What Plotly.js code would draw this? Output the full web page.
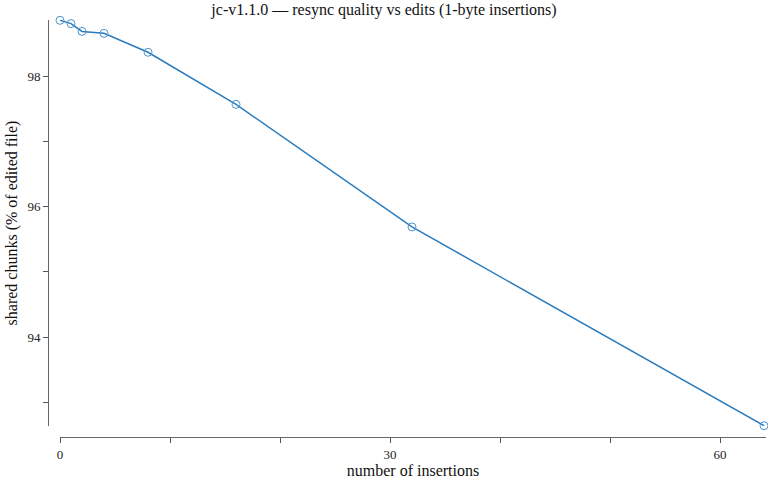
<!DOCTYPE html>
<html>
<head>
<meta charset="utf-8">
<script src="https://cdn.plot.ly/plotly-3.0.1.min.js"></script>
<style>
  html, body { margin: 0; padding: 0; background: #fff; }
  #chart { width: 768px; height: 480px; }
</style>
</head>
<body>
<div id="chart"></div>
<script>
// values
const insertions = [0, 1, 2, 4, 8, 16, 32, 64];
const sharedPct = [98.86, 98.81, 98.69, 98.66, 98.37, 97.57, 95.69, 92.64];

const xTickVals = [0, 10, 20, 30, 40, 50, 60];
const xTickText = ['0', '', '', '30', '', '', '60'];
const yTickVals = [93, 94, 95, 96, 97, 98];
const yTickText = ['', '94', '', '96', '', '98'];

const serif = '"Liberation Serif", "DejaVu Serif", serif';
const blue = '#2a7bbd';

const trace = {
    x: insertions,
    y: sharedPct,
    mode: 'lines+markers',
    cliponaxis: false,
    line: { color: blue, width: 1.5 },
    marker: {
        symbol: 'circle-open',
        size: 8,
        color: '#4c94cf',
        line: { width: 1, color: '#4c94cf' }
    },
    showlegend: false,
    hoverinfo: 'skip'
};

const layout = {
    width: 768,
    height: 480,
    margin: { l: 48, r: 2, t: 20, b: 43 },
    paper_bgcolor: '#fff',
    plot_bgcolor: '#fff',
    font: { family: serif, size: 13, color: '#222' },
    title: {
        text: 'jc-v1.1.0 — resync quality vs edits (1-byte insertions)',
        font: { family: serif, size: 16, color: '#111' },
        x: 0.5, xref: 'container', xanchor: 'center',
        y: 0.993, yref: 'container', yanchor: 'top'
    },
    xaxis: {
        domain: [12 / 718, 1],
        range: [0, 64.18],
        anchor: 'free',
        position: 0,
        showgrid: false,
        zeroline: false,
        showline: true,
        linecolor: '#666',
        linewidth: 1,
        ticks: 'outside',
        ticklen: 5,
        tickcolor: '#555',
        tickvals: xTickVals,
        ticktext: xTickText,
        tickfont: { family: serif, size: 13, color: '#222' },
        title: {
            text: 'number of insertions',
            font: { family: serif, size: 16, color: '#111' },
            standoff: 3
        }
    },
    yaxis: {
        domain: [11 / 417, 1],
        range: [92.635, 98.865],
        anchor: 'free',
        position: 0,
        showgrid: false,
        zeroline: false,
        showline: true,
        linecolor: '#666',
        linewidth: 1,
        ticks: 'outside',
        ticklen: 5,
        tickcolor: '#555',
        tickvals: yTickVals,
        ticktext: yTickText,
        tickfont: { family: serif, size: 13, color: '#222' },
        title: {
            text: 'shared chunks (% of edited file)',
            font: { family: serif, size: 16, color: '#111' },
            standoff: 4
        }
    }
};

Plotly.newPlot('chart', [trace], layout, { displayModeBar: false, staticPlot: true });
</script>
</body>
</html>
